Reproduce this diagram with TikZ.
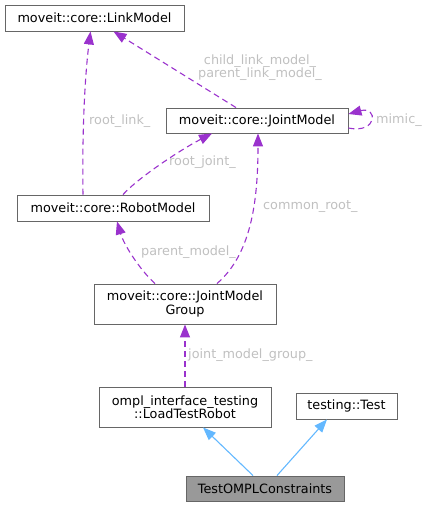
\documentclass[tikz,border=0pt]{standalone}
\usepackage{fontspec}
\setmainfont{DejaVu Sans}
\usetikzlibrary{arrows.meta,calc}
\definecolor{edgep}{HTML}{9A32CD}
\definecolor{inh}{HTML}{63B8FF}
\definecolor{bord}{HTML}{666666}
\definecolor{lab}{HTML}{C0C0C0}
\definecolor{hl}{HTML}{999999}
\tikzset{
  cls/.style={draw=bord, fill=white, line width=0.9pt, inner sep=0pt, align=center,
    font=\fontsize{12.8}{13.5}\selectfont, text=black},
  usage/.style={draw=edgep, line width=1.1pt, dash pattern=on 6pt off 4pt,
    -{Triangle[length=13pt,width=10pt]}, fill=none},
  inherit/.style={draw=inh, line width=1.1pt, -{Triangle[length=13pt,width=10pt]}},
  lbl/.style={text=lab, inner sep=0pt, align=center, font=\fontsize{12.8}{13.5}\selectfont}
}
\begin{document}
\begin{tikzpicture}[x=1pt,y=-1pt]
\useasboundingbox (0,0) rectangle (431,507);
% classes
\node[cls, minimum width=179pt, minimum height=26pt] (lm) at (94.5,18) {moveit::core::LinkModel};
\node[cls, minimum width=182pt, minimum height=25pt] (jm) at (257,120.5) {moveit::core::JointModel};
\node[cls, minimum width=192pt, minimum height=26pt] (rm) at (113,208) {moveit::core::RobotModel};
\node[cls, minimum width=182pt, minimum height=40pt] (jmg) at (185,304) {moveit::core::JointModel\\Group};
\node[cls, minimum width=172pt, minimum height=40pt] (ltr) at (185,407) {ompl\_interface\_testing\\::LoadTestRobot};
\node[cls, minimum width=101pt, minimum height=26pt] (tt) at (346.5,406) {testing::Test};
\node[cls, fill=hl, minimum width=158pt, minimum height=25pt] (toc) at (265,488.5) {TestOMPLConstraints};
% usage edges
\draw[usage] ($(rm.north)+(-30,0)$) .. controls (82,130) and (85,75) .. ($(lm.south)+(-4,0)$);
\draw[usage] ($(jm.north)+(-21,0)$) -- ($(lm.south)+(19,0)$);
\draw[usage] ($(rm.north)+(10,0)$) .. controls (138,178) and (180,150) .. ($(jm.south)+(-45,0)$);
\draw[usage] ($(jm.east)+(0,7.5)$) .. controls (378,134) and (378,106) .. ($(jm.east)+(0,-6.5)$);
\draw[usage] ($(jmg.north)+(32,0)$) .. controls (250,255) and (258,205) .. ($(jm.south)+(1,0)$);
\draw[usage] ($(jmg.north)+(-30,0)$) .. controls (140,270) and (124,245) .. ($(rm.south)+(4,0)$);
\draw[usage] (ltr.north) -- (jmg.south);
% inheritance
\draw[inherit] ($(toc.north)+(-12,0)$) -- ($(ltr.south)+(18,0)$);
\draw[inherit] ($(toc.north)+(12,0)$) -- ($(tt.south)+(-19.5,0)$);
% labels
\node[lbl, anchor=west] (l1) at (89,121) {root\_link\_};
\node[lbl] (l2) at (260,67.5) {child\_link\_model\_\\parent\_link\_model\_};
\node[lbl, anchor=west] (l3) at (169,162.5) {root\_joint\_};
\node[lbl, anchor=west] (l4) at (376,120.5) {mimic\_};
\node[lbl, anchor=west] (l5) at (263,207) {common\_root\_};
\node[lbl, anchor=west] (l6) at (141,252) {parent\_model\_};
\node[lbl, anchor=west] (l7) at (188,355) {joint\_model\_group\_};
\end{tikzpicture}
\end{document}
